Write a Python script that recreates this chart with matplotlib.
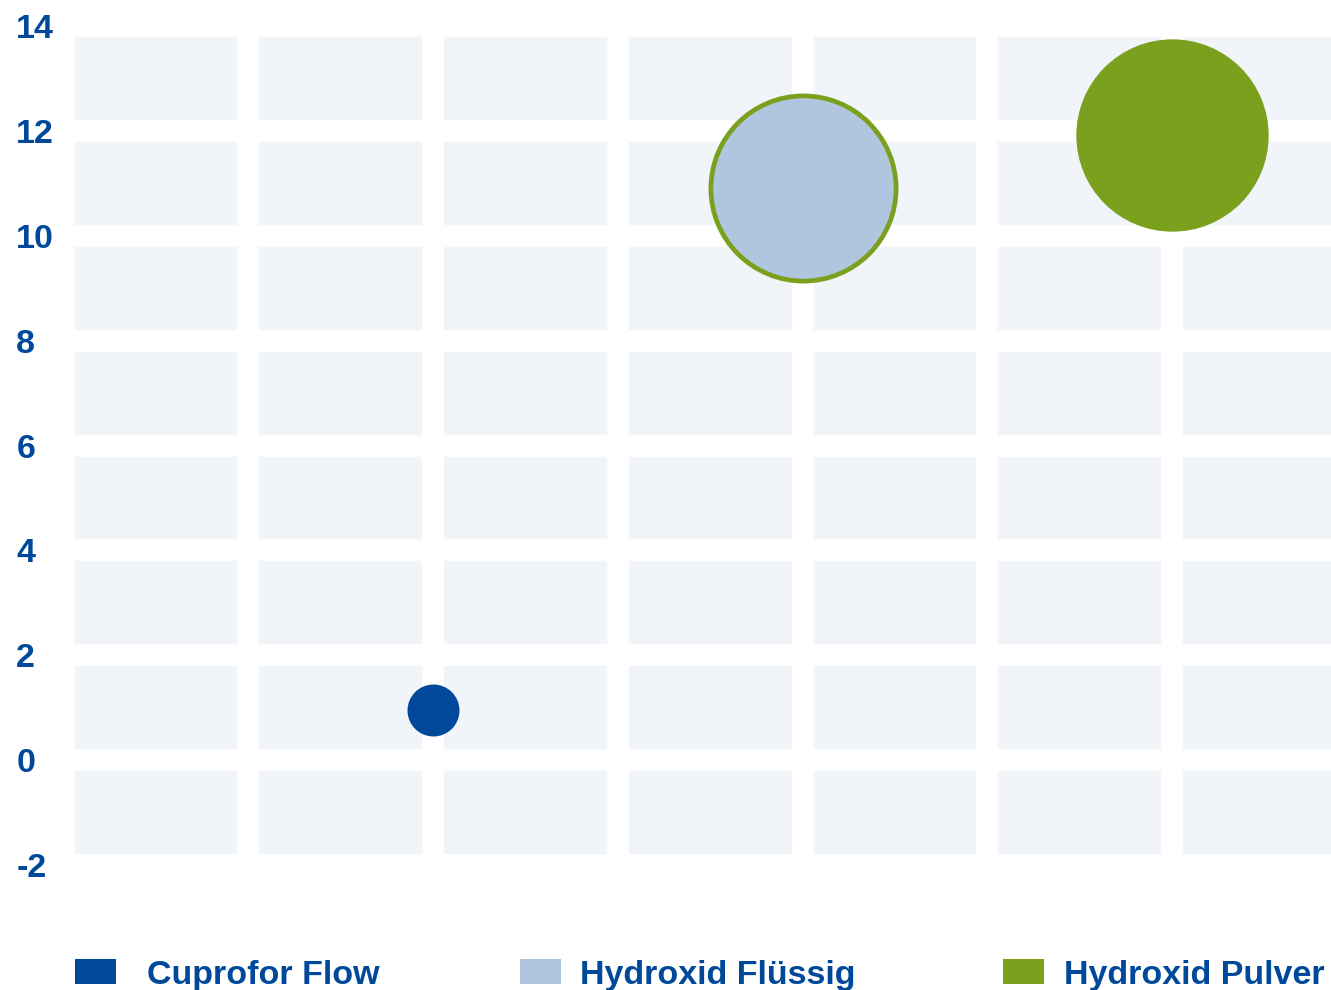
import matplotlib
matplotlib.use("Agg")
import matplotlib.pyplot as plt
from matplotlib.patches import Patch

# data
series = ["Cuprofor Flow", "Hydroxid Flüssig", "Hydroxid Pulver"]
x_vals = [2, 4, 6]
y_vals = [0.95, 10.92, 11.93]
bubble_size = [1.0, 12.7, 13.7]   # relative bubble area
y_ticks = [-2, 0, 2, 4, 6, 8, 10, 12, 14]

BLUE = "#00489a"
LIGHT = "#b0c6de"
GREEN = "#7aa01d"
fill_colors = [BLUE, LIGHT, GREEN]
edge_colors = [BLUE, GREEN, GREEN]
edge_widths = [0, 3.4, 0]

plt.rcParams['font.family'] = ['Liberation Sans', 'DejaVu Sans']

fig = plt.figure(figsize=(13.31, 9.9), dpi=100)
ax = fig.add_axes([63.5 / 1331, 125 / 990, 7 * 184.75 / 1331, 839 / 990])
ax.set_facecolor("#f1f4f9")

for xv, yv, sz, fc, ec, lw in zip(x_vals, y_vals, bubble_size, fill_colors, edge_colors, edge_widths):
    ax.scatter([xv], [yv], s=sz * 1400, c=fc, edgecolors=ec, linewidths=lw, zorder=3, clip_on=False)

ax.set_xlim(0, 7)
ax.set_ylim(-2, 14)
ax.set_xticks(range(0, 8))
ax.set_yticks(y_ticks)
ax.set_xticklabels([])
ax.set_yticklabels([str(t) for t in y_ticks])
ax.grid(True, color="white", linewidth=15.5, zorder=1)
ax.set_axisbelow(True)
ax.tick_params(axis="both", length=0)
ax.tick_params(axis="y", pad=34, labelsize=24.5, labelcolor=BLUE)
for lab in ax.get_yticklabels():
    lab.set_fontweight("bold")
    lab.set_horizontalalignment("left")
for sp in ax.spines.values():
    sp.set_visible(False)

# one legend per entry, so each keeps its own spot along the bottom
leg_x = [75, 520, 1003]
leg_pad = [0.92, 0.56, 0.6]
for name, col, lx, pad in zip(series, fill_colors, leg_x, leg_pad):
    leg = fig.legend([Patch(facecolor=col, edgecolor="none")], [name],
                     loc="center left", bbox_to_anchor=(lx / 1331, 15 / 990),
                     frameon=False, borderpad=0, borderaxespad=0,
                     handlelength=1.2, handleheight=0.73, handletextpad=pad,
                     prop={"size": 24.5, "weight": "bold"})
    leg.get_texts()[0].set_color(BLUE)

fig.savefig("out.png", dpi=100)
